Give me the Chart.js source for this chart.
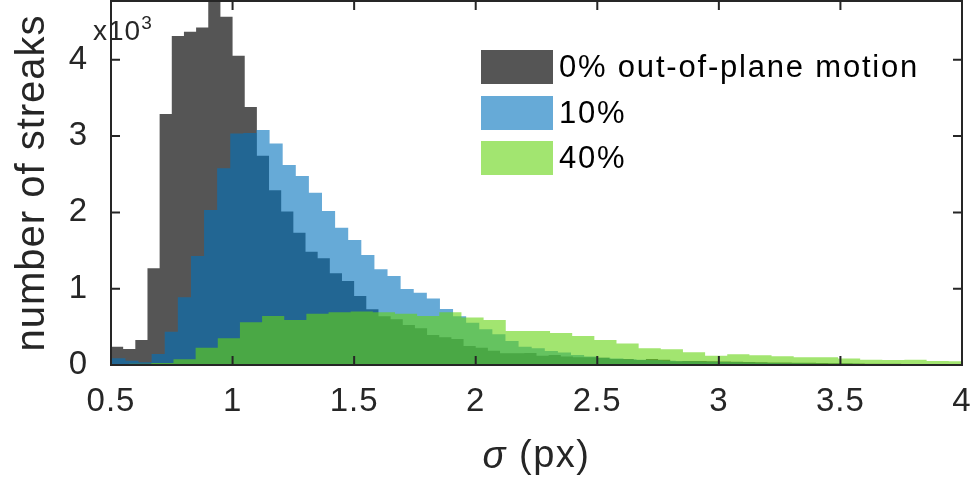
<!DOCTYPE html>
<html>
<head>
<meta charset="utf-8">
<script src="https://cdn.jsdelivr.net/npm/chart.js@4.4.1/dist/chart.umd.min.js"></script>
<style>
  body { margin: 0; background: #fff; }
  #wrap { position: relative; width: 976px; height: 485px; }
  #legend {
    position: absolute; left: 481px; top: 50px;
    font-family: 'Liberation Sans', Arial, sans-serif; font-size: 31px;
    letter-spacing: 1.8px; color: #000;
  }
  .item { display: flex; align-items: center; height: 34px; margin-bottom: 11.5px; }
  .swatch { width: 72px; height: 34px; margin-right: 6px; }
</style>
</head>
<body>
<div id="wrap">
  <canvas id="hist" width="976" height="485"></canvas>
  <div id="legend"></div>
</div>
<script>
// Streak width histograms for three amounts of out-of-plane motion
const seriesLabels = ['0% out-of-plane motion', '10%', '40%'];

// 0% : bins of 0.05 starting at 0.5
const binStart0 = 0.5;
const binWidth0 = 0.05;
const counts0 = [240, 210, 328, 1267, 3288, 4310, 4366, 4424, 4950, 4565,
  4052, 3380, 2742, 2289, 2010, 1733, 1484, 1400, 1201, 1100,
  905, 730, 640, 600, 525, 481, 393, 363, 341, 249,
  227, 188, 153, 153, 157, 122, 131, 110, 100, 100,
  95, 80, 80, 65, 78, 70, 50, 52, 52, 50,
  45, 42, 40, 36, 34, 32, 30, 28, 26, 24,
  22, 20, 18, 17, 15, 14, 12, 11, 10, 9];

// 10%
const binStart10 = 0.4515;
const binWidth10 = 0.0539;
const counts10 = [90, 87, 56, 35, 144, 437, 887, 1428, 2031, 2577,
  3035, 3040, 3079, 2904, 2620, 2476, 2257, 2017, 1799, 1638,
  1441, 1254, 1166, 996, 947, 873, 734, 640, 555, 468,
  402, 314, 240, 218, 183, 165, 130, 110, 95, 85,
  75, 68, 62, 56, 50, 46, 42, 38, 35, 32,
  29, 27, 24, 22, 20, 18, 16, 15, 13, 12,
  11, 10, 9, 8, 7, 6];

// 40%
const binStart40 = 0.4837;
const binWidth40 = 0.0911;
const counts40 = [10, 15, 25, 75, 227, 350, 559, 642, 590, 672,
  690, 700, 690, 670, 642, 690, 624, 590, 445, 445,
  419, 380, 328, 282, 220, 208, 166, 122, 142, 129,
  116, 100, 103, 85, 70, 65, 70, 52, 50];

const xTicks = [0.5, 1, 1.5, 2, 2.5, 3, 3.5, 4];
const yTicks = [0, 1000, 2000, 3000, 4000];

const fillColors = ['rgba(0, 0, 0, 0.667)', 'rgba(0, 114, 189, 0.6)', 'rgba(100, 212, 17, 0.6)'];
const axisColor = '#262626';
const fontFamily = "'Liberation Sans', Arial, sans-serif";

// one point per bin start, plus the closing edge
function histPoints(start, width, counts) {
  const pts = counts.map((c, i) => ({ x: start + i * width, y: c }));
  pts.push({ x: start + counts.length * width, y: 0 });
  return pts;
}

function histDataset(i, start, width, counts) {
  return {
    label: seriesLabels[i],
    data: histPoints(start, width, counts),
    stepped: true,
    fill: 'origin',
    backgroundColor: fillColors[i],
    borderColor: 'transparent',
    borderWidth: 0,
    pointRadius: 0,
    order: 3 - i
  };
}

// box with inward ticks on all four sides
const frame = {
  id: 'frame',
  beforeDraw(chart) {
    chart.ctx.letterSpacing = '1px';
  },
  afterDraw(chart) {
    const { ctx, chartArea: a, scales: { x, y } } = chart;
    ctx.save();
    ctx.strokeStyle = axisColor;
    ctx.lineWidth = 2;
    ctx.beginPath();
    xTicks.forEach(v => {
      const px = x.getPixelForValue(v);
      ctx.moveTo(px, a.bottom); ctx.lineTo(px, a.bottom - 9);
      ctx.moveTo(px, a.top); ctx.lineTo(px, a.top + 9);
    });
    yTicks.forEach(v => {
      const py = y.getPixelForValue(v);
      ctx.moveTo(a.left, py); ctx.lineTo(a.left + 9, py);
      ctx.moveTo(a.right, py); ctx.lineTo(a.right - 9, py);
    });
    ctx.stroke();
    ctx.strokeRect(a.left, a.top, a.right - a.left, a.bottom - a.top);

    // exponent label
    ctx.fillStyle = axisColor;
    ctx.textBaseline = 'alphabetic';
    ctx.textAlign = 'left';
    ctx.letterSpacing = '1px';
    ctx.font = '28px ' + fontFamily;
    ctx.fillText('x10', 93, 40);
    const w = ctx.measureText('x10').width;
    ctx.font = '19px ' + fontFamily;
    ctx.fillText('3', 93 + w, 29);

    // x axis title: italic sigma followed by the unit
    ctx.letterSpacing = '1.5px';
    ctx.font = 'italic 38px ' + fontFamily;
    const sig = 'σ';
    const ws = ctx.measureText(sig).width;
    ctx.font = '38px ' + fontFamily;
    const unit = ' (px)';
    const wu = ctx.measureText(unit).width;
    const cx = (a.left + a.right) / 2;
    const tx = cx - (ws + wu) / 2;
    ctx.textBaseline = 'middle';
    ctx.font = 'italic 38px ' + fontFamily;
    ctx.fillText(sig, tx, 457);
    ctx.font = '38px ' + fontFamily;
    ctx.fillText(unit, tx + ws, 457);
    ctx.restore();
  }
};

const chart = new Chart(document.getElementById('hist'), {
  type: 'line',
  data: {
    datasets: [
      histDataset(0, binStart0, binWidth0, counts0),
      histDataset(1, binStart10, binWidth10, counts10),
      histDataset(2, binStart40, binWidth40, counts40)
    ]
  },
  options: {
    responsive: false,
    animation: false,
    layout: { padding: { top: 1, right: 14, left: 0, bottom: 0 } },
    plugins: { legend: { display: false }, tooltip: { enabled: false } },
    scales: {
      x: {
        type: 'linear',
        min: 0.5,
        max: 4,
        grid: { display: false },
        border: { display: false },
        afterBuildTicks: s => { s.ticks = xTicks.map(v => ({ value: v })); },
        afterFit: s => { s.height = 120; s.paddingLeft = 0; s.paddingRight = 0; },
        ticks: {
          color: axisColor,
          padding: 9,
          maxRotation: 0,
          autoSkip: false,
          font: { family: fontFamily, size: 33 },
          callback: v => String(v)
        }
      },
      y: {
        type: 'linear',
        min: 0,
        max: 4770,
        grid: { display: false },
        border: { display: false },
        afterBuildTicks: s => { s.ticks = yTicks.map(v => ({ value: v })); },
        afterFit: s => { s.width = 111; s.paddingTop = 0; s.paddingBottom = 0; },
        ticks: {
          color: axisColor,
          padding: 15,
          font: { family: fontFamily, size: 33 },
          callback: v => String(v / 1000)
        },
        title: {
          display: true,
          text: 'number of streaks',
          color: axisColor,
          padding: { top: 9, bottom: 0 },
          font: { family: fontFamily, size: 40, lineHeight: 1.2 }
        }
      }
    }
  },
  plugins: [frame]
});

// legend boxes beside the labels
const legend = document.getElementById('legend');
seriesLabels.forEach((label, i) => {
  const item = document.createElement('div');
  item.className = 'item';
  const sw = document.createElement('div');
  sw.className = 'swatch';
  sw.style.background = fillColors[i];
  const txt = document.createElement('span');
  txt.textContent = label;
  item.appendChild(sw);
  item.appendChild(txt);
  legend.appendChild(item);
});
</script>
</body>
</html>
